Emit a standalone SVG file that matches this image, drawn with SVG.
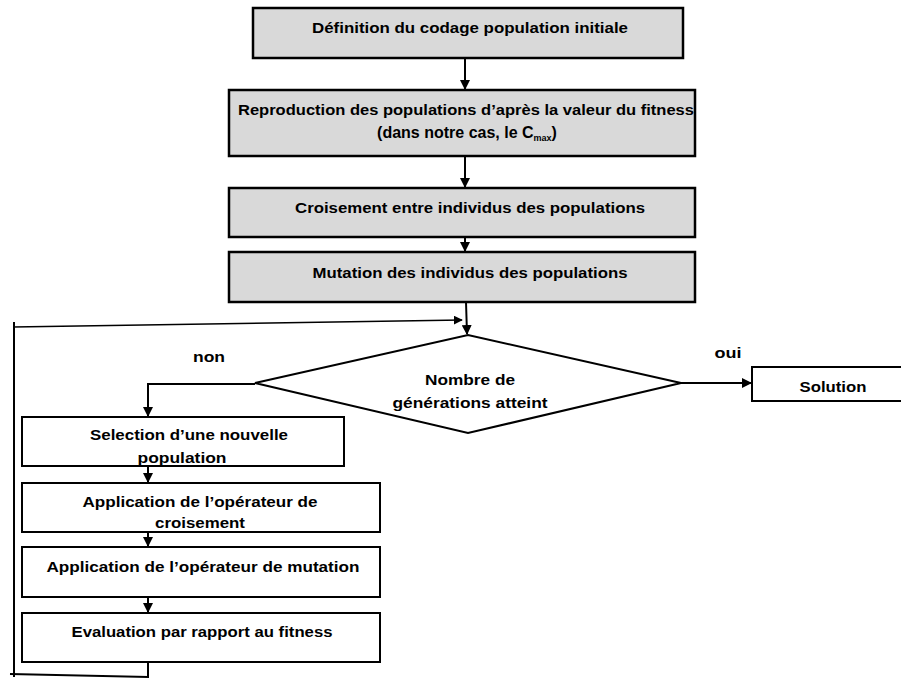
<svg xmlns="http://www.w3.org/2000/svg" width="901" height="679" viewBox="0 0 901 679">
<style>
.box{fill:#fff;stroke:#000;stroke-width:2}
.g{fill:#d9d9d9;stroke:#000;stroke-width:2.5}
.t{font-family:"Liberation Sans",Arial,sans-serif;font-weight:bold;font-size:15px;text-anchor:middle;fill:#000}
.c{fill:none;stroke:#000;stroke-width:2}
.c1{fill:none;stroke:#000;stroke-width:1.5}
</style>
<defs>
<marker id="ah" viewBox="0 0 10 10" refX="9" refY="5" markerWidth="5" markerHeight="5" orient="auto" markerUnits="strokeWidth">
<path d="M0,0 L10,5 L0,10 z" fill="#000"/>
</marker>
<marker id="ah2" viewBox="0 0 10 10" refX="9" refY="5" markerWidth="6" markerHeight="6" orient="auto" markerUnits="strokeWidth">
<path d="M0,0 L10,5 L0,10 z" fill="#000"/>
</marker>
</defs>
<rect width="901" height="679" fill="#fff"/>
<g id="connectors">
<line class="c" x1="465" y1="58" x2="465" y2="89" marker-end="url(#ah)"/>
<line class="c" x1="465" y1="156" x2="465" y2="187" marker-end="url(#ah)"/>
<line class="c" x1="465" y1="237" x2="465" y2="251" marker-end="url(#ah)"/>
<line class="c" x1="466" y1="302" x2="467" y2="334" marker-end="url(#ah)"/>
<polyline class="c1" points="13,327 462,320" marker-end="url(#ah2)"/>
<line class="c" x1="14" y1="322" x2="14" y2="677"/>
<polyline class="c" points="148,662 148,677 10,674"/>
<polyline class="c" points="255,384 148,384 148,416" marker-end="url(#ah)"/>
<line class="c" x1="681" y1="383" x2="751" y2="383" marker-end="url(#ah)"/>
<line class="c" x1="148" y1="466" x2="148" y2="482" marker-end="url(#ah)"/>
<line class="c" x1="148" y1="532" x2="148" y2="546" marker-end="url(#ah)"/>
<line class="c" x1="148" y1="597" x2="148" y2="612" marker-end="url(#ah)"/>
</g>
<g id="n1">
<rect class="g" x="253" y="8" width="430" height="50"/>
<text class="t" x="470" y="33" textLength="316" lengthAdjust="spacingAndGlyphs">Définition du codage population initiale</text>
</g>
<g id="n2">
<rect class="g" x="229" y="90" width="466" height="66"/>
<text class="t" x="466" y="115" textLength="456" lengthAdjust="spacingAndGlyphs">Reproduction des populations d’après la valeur du fitness</text>
<text class="t" x="467" y="138" style="font-size:16px">(dans notre cas, le C<tspan font-size="9" dy="3">max</tspan><tspan dy="-3">)</tspan></text>
</g>
<g id="n3">
<rect class="g" x="229" y="188" width="466" height="49"/>
<text class="t" x="470" y="213" textLength="350" lengthAdjust="spacingAndGlyphs">Croisement entre individus des populations</text>
</g>
<g id="n4">
<rect class="g" x="229" y="252" width="466" height="50"/>
<text class="t" x="470" y="278" textLength="315" lengthAdjust="spacingAndGlyphs">Mutation des individus des populations</text>
</g>
<g id="decision">
<polygon class="box" points="255,383 468,335 681,383 468,433"/>
<text class="t" x="470" y="385" textLength="90" lengthAdjust="spacingAndGlyphs">Nombre de</text>
<text class="t" x="470" y="408" textLength="155" lengthAdjust="spacingAndGlyphs">générations atteint</text>
</g>
<g id="label-non"><text class="t" x="209" y="362" textLength="32" lengthAdjust="spacingAndGlyphs">non</text></g>
<g id="label-oui"><text class="t" x="728" y="358" textLength="27" lengthAdjust="spacingAndGlyphs">oui</text></g>
<g id="solution">
<rect class="box" x="752" y="367" width="152" height="34"/>
<text class="t" x="833" y="392" textLength="67" lengthAdjust="spacingAndGlyphs">Solution</text>
</g>
<g id="s1">
<rect class="box" x="22" y="417" width="322" height="49"/>
<text class="t" x="189" y="440" textLength="198" lengthAdjust="spacingAndGlyphs">Selection d’une nouvelle</text>
<text class="t" x="182" y="463" textLength="89" lengthAdjust="spacingAndGlyphs">population</text>
</g>
<g id="s2">
<rect class="box" x="22" y="483" width="358" height="49"/>
<text class="t" x="200" y="507" textLength="235" lengthAdjust="spacingAndGlyphs">Application de l’opérateur de</text>
<text class="t" x="200" y="528" textLength="90" lengthAdjust="spacingAndGlyphs">croisement</text>
</g>
<g id="s3">
<rect class="box" x="22" y="547" width="358" height="50"/>
<text class="t" x="203" y="572" textLength="313" lengthAdjust="spacingAndGlyphs">Application de l’opérateur de mutation</text>
</g>
<g id="s4">
<rect class="box" x="22" y="613" width="358" height="49"/>
<text class="t" x="202" y="637" textLength="261" lengthAdjust="spacingAndGlyphs">Evaluation par rapport au fitness</text>
</g>
</svg>
